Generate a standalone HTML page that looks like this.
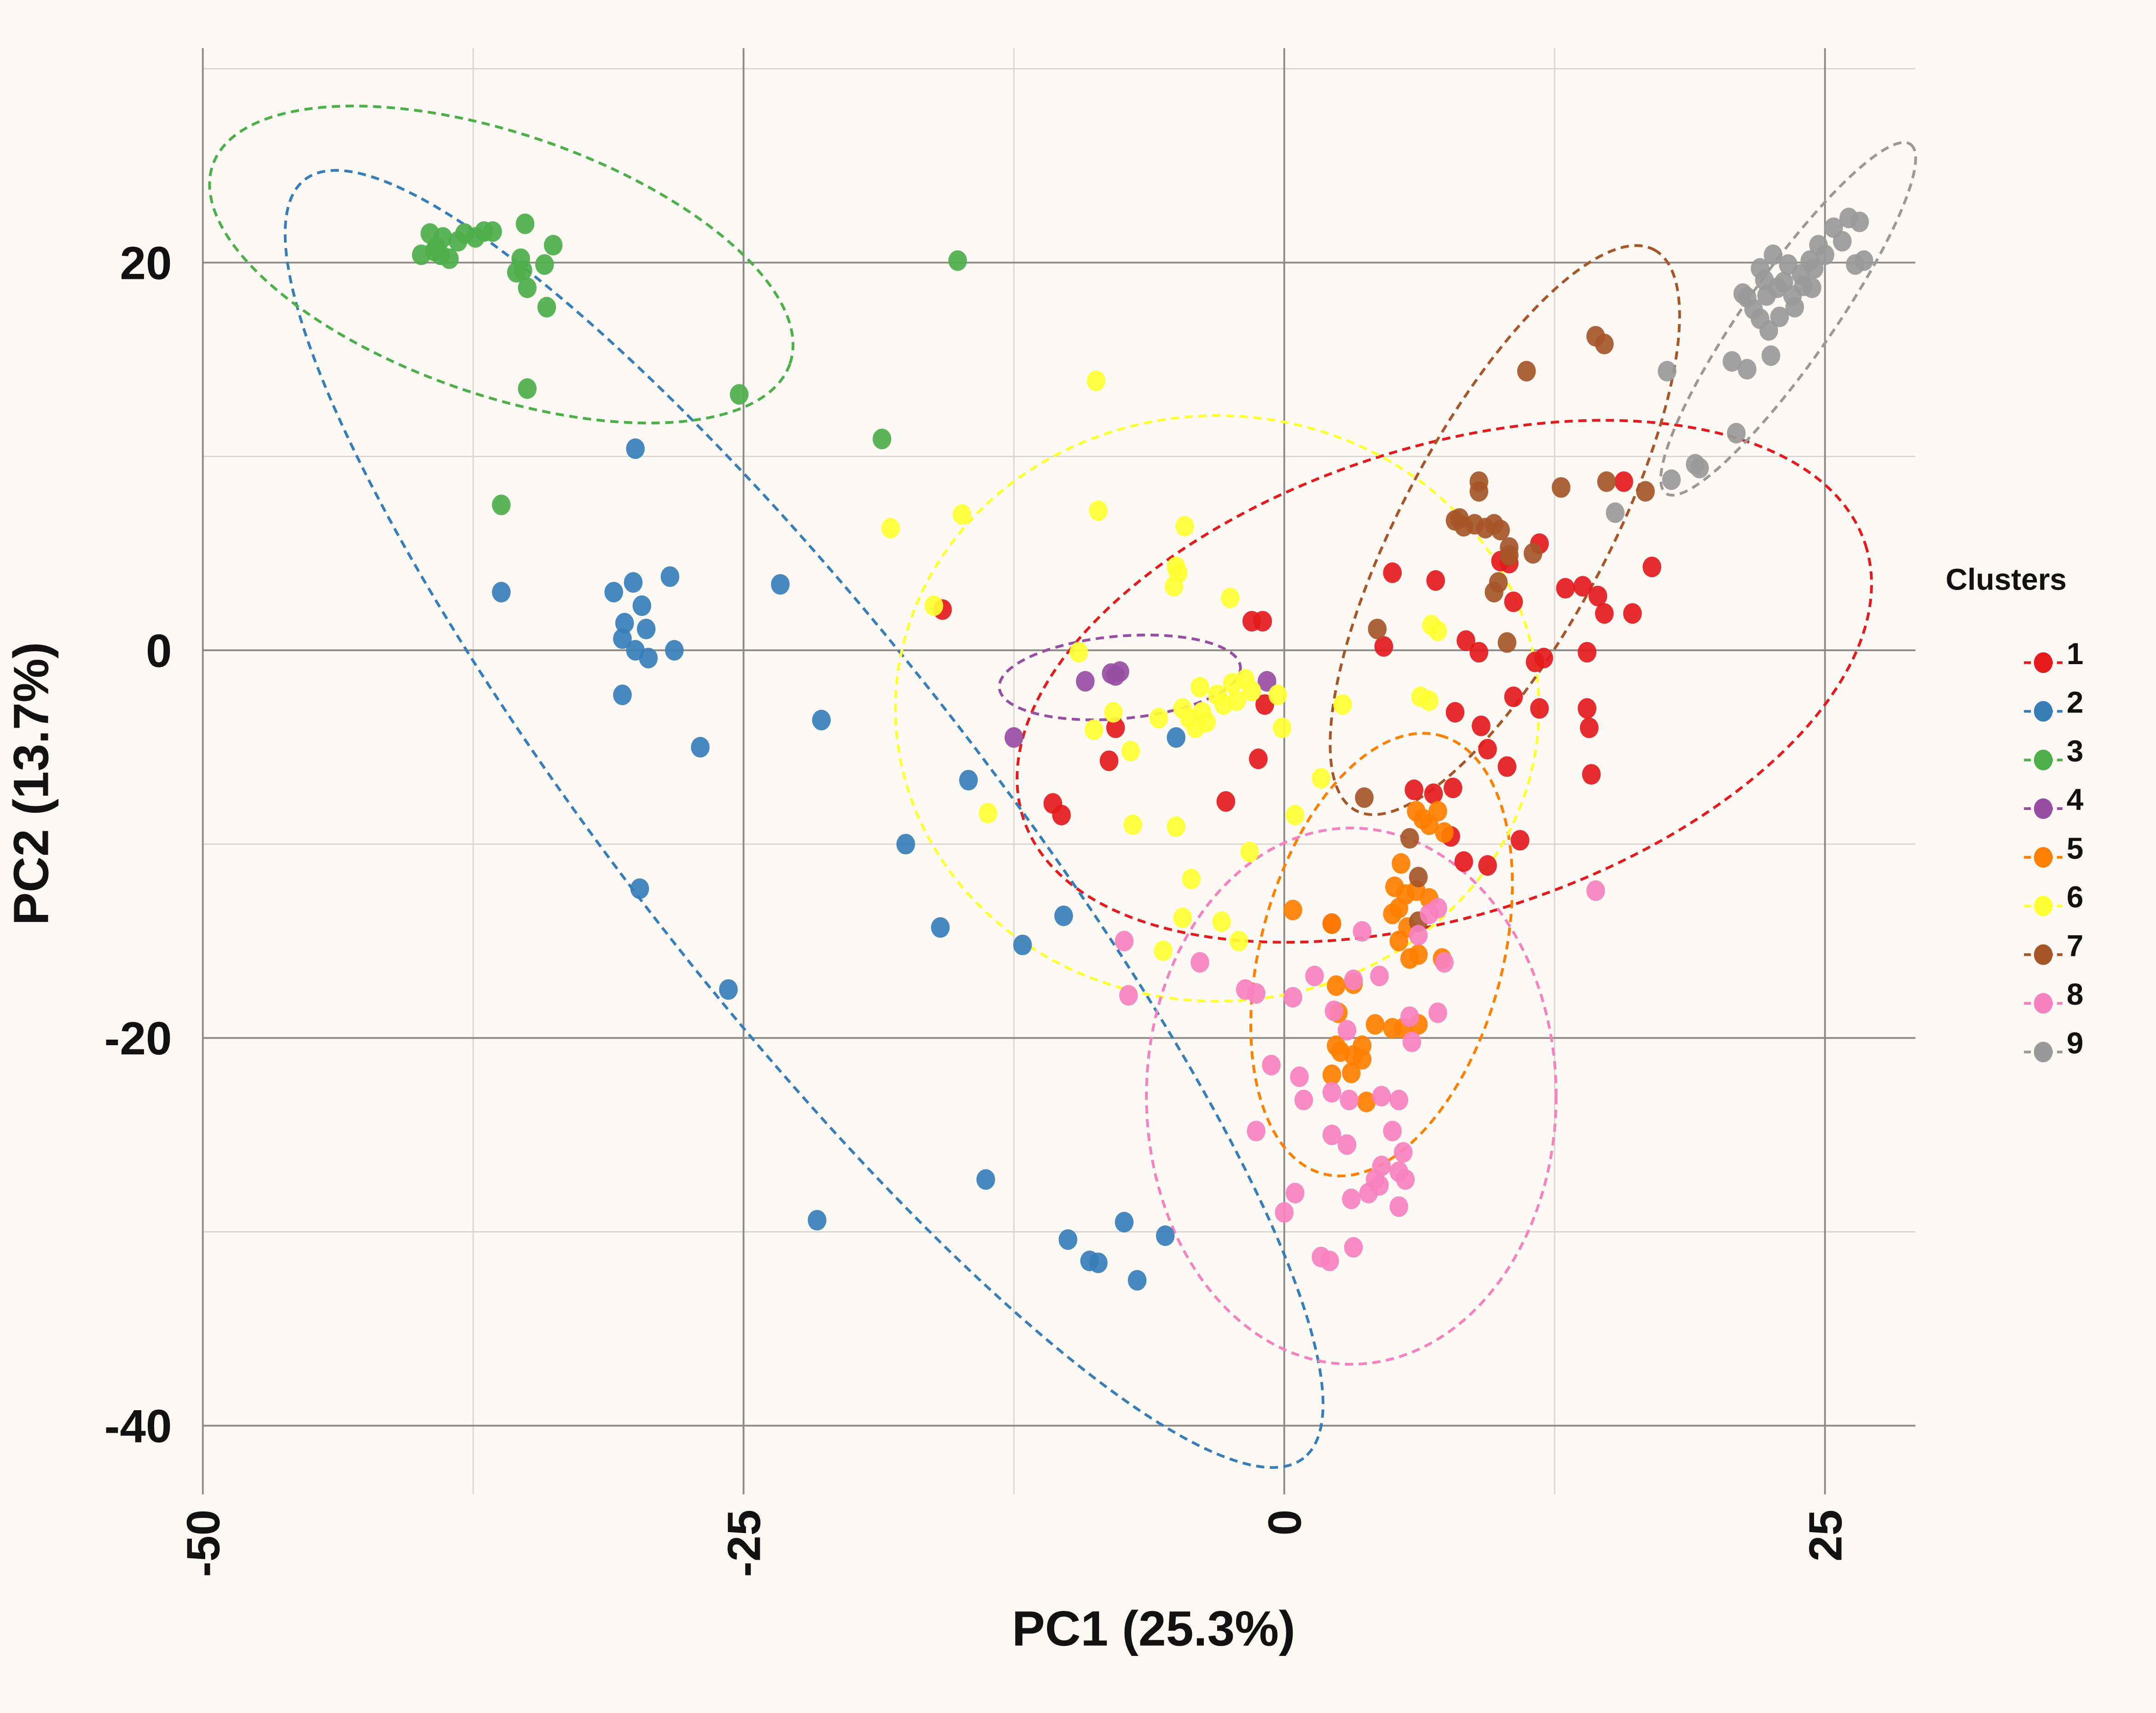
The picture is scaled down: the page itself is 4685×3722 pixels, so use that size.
<!DOCTYPE html>
<html><head><meta charset="utf-8"><style>
html,body{margin:0;padding:0;background:#fdfaf6;}
svg{display:block;font-family:"Liberation Sans",Arial,sans-serif;}
</style></head><body>
<svg id="chart" width="4685" height="3722" viewBox="0 0 1568 1246" preserveAspectRatio="none" xmlns="http://www.w3.org/2000/svg">
<rect width="1568" height="1246" fill="#fdfaf6"/>
<g id="grid"></g>
<g id="ellipses"></g>
<g id="points"></g>
<g id="axes"></g>
<g id="legend"></g>
</svg>
<script>
const xTicks = [-50, -25, 0, 25];
const xMinor = [-37.5, -12.5, 12.5];
const yTicks = [20, 0, -20, -40];
const yMinor = [30, 10, -10, -30];
const clusterNames = ["1","2","3","4","5","6","7","8","9"];
const clusterColors = ["#e41a1c","#377eb8","#4daf4a","#984ea3","#ff7f00","#ffff33","#a65628","#f781bf","#999999"];

const c1 = [[-15.8,2.1],[-10.7,-7.9],[-10.3,-8.5],[-8.1,-5.7],[-7.8,-4.0],[-2.7,-7.8],[-1.2,-5.6],[-0.9,-2.8],[-1.5,1.5],[-1.0,1.5],[4.6,0.2],[5.0,4.0],[7.0,3.6],[8.4,0.5],[9.0,-0.1],[10.6,2.5],[10.0,4.6],[10.4,4.5],[11.8,5.5],[11.6,-0.6],[12.0,-0.4],[10.6,-2.4],[11.8,-3.0],[9.1,-3.9],[9.4,-5.1],[10.3,-6.0],[7.9,-3.2],[6.0,-7.2],[6.9,-7.4],[7.8,-7.1],[10.9,-9.8],[8.3,-10.9],[9.4,-11.1],[13.0,3.2],[13.8,3.3],[14.5,2.8],[14.8,1.9],[16.1,1.9],[14.0,-0.1],[14.0,-3.0],[14.1,-4.0],[14.2,-6.4],[15.7,8.7],[17.0,4.3],[7.7,-9.6],[2.2,-14.1]];
const c2 = [[-30.0,10.4],[-36.2,3.0],[-31.0,3.0],[-30.1,3.5],[-28.4,3.8],[-23.3,3.4],[-30.5,1.4],[-29.7,2.3],[-29.5,1.1],[-30.6,0.6],[-30.0,0.0],[-29.4,-0.4],[-28.2,0.0],[-30.6,-2.3],[-21.4,-3.6],[-27.0,-5.0],[-29.8,-12.3],[-25.7,-17.5],[-17.5,-10.0],[-14.6,-6.7],[-15.9,-14.3],[-12.1,-15.2],[-10.2,-13.7],[-5.0,-4.5],[-13.8,-27.3],[-21.6,-29.4],[-10.0,-30.4],[-9.0,-31.5],[-8.6,-31.6],[-7.4,-29.5],[-6.8,-32.5],[-5.5,-30.2]];
const c3 = [[-39.9,20.4],[-39.5,21.5],[-39.2,20.8],[-38.9,21.3],[-38.6,20.2],[-38.2,21.1],[-37.9,21.5],[-37.4,21.3],[-37.0,21.6],[-36.6,21.6],[-35.1,22.0],[-35.3,20.2],[-35.2,19.6],[-35.5,19.5],[-35.0,18.7],[-34.2,19.9],[-33.8,20.9],[-34.1,17.7],[-35.0,13.5],[-36.2,7.5],[-15.1,20.1],[-25.2,13.2],[-18.6,10.9],[-39.3,20.6],[-39.0,20.4]];
const c4 = [[-9.2,-1.6],[-8.0,-1.2],[-7.6,-1.1],[-7.8,-1.3],[-12.5,-4.5],[-0.8,-1.6]];
const c5 = [[6.1,-8.3],[6.4,-8.7],[7.1,-8.3],[7.4,-9.4],[6.7,-9.0],[5.4,-11.0],[5.1,-12.2],[5.3,-13.3],[5.0,-13.6],[5.6,-12.6],[6.1,-12.4],[6.7,-12.8],[5.7,-14.3],[5.3,-15.0],[5.8,-15.9],[0.4,-13.4],[2.2,-14.1],[2.4,-17.3],[2.5,-18.7],[3.2,-17.2],[2.4,-20.4],[2.6,-20.7],[3.2,-20.9],[3.6,-21.1],[2.2,-21.9],[3.1,-21.8],[3.8,-23.3],[4.2,-19.3],[5.0,-19.5],[5.5,-19.5],[6.2,-19.3],[3.6,-20.4],[7.3,-15.9],[6.2,-15.7]];
const c6 = [[-8.7,13.9],[-8.6,7.2],[-14.9,7.0],[-18.2,6.3],[-16.2,2.3],[-4.6,6.4],[-5.0,4.3],[-4.9,4.0],[-5.1,3.3],[-2.5,2.7],[-9.5,-0.1],[-7.9,-3.2],[-8.8,-4.1],[-7.1,-5.2],[-5.8,-3.5],[-4.7,-3.0],[-4.4,-3.5],[-4.1,-4.0],[-3.8,-3.2],[-3.6,-3.7],[-3.9,-1.9],[-3.1,-2.3],[-2.8,-2.8],[-2.4,-1.7],[-1.8,-1.5],[-1.5,-2.1],[-2.2,-2.6],[-0.3,-2.3],[-0.1,-4.0],[2.7,-2.8],[0.5,-8.5],[1.7,-6.6],[-1.6,-10.4],[-4.3,-11.8],[-4.7,-13.8],[-2.9,-14.0],[-2.1,-15.0],[-5.6,-15.5],[-7.0,-9.0],[-5.0,-9.1],[-13.7,-8.4],[6.3,-2.4],[6.7,-2.6],[6.8,1.3],[7.1,1.0]];
const c7 = [[14.4,16.2],[14.8,15.8],[11.2,14.4],[9.0,8.7],[9.0,8.2],[8.1,6.8],[8.8,6.5],[9.3,6.3],[9.7,6.5],[10.0,6.2],[8.3,6.4],[7.9,6.7],[10.4,5.3],[10.4,4.9],[9.9,3.5],[9.7,3.0],[11.5,5.0],[12.8,8.4],[14.9,8.7],[16.7,8.2],[10.3,0.4],[4.3,1.1],[3.7,-7.6],[5.8,-9.7],[6.2,-11.7],[6.2,-14.0]];
const c8 = [[-7.4,-15.0],[-7.2,-17.8],[-3.9,-16.1],[-1.8,-17.5],[-1.3,-17.7],[0.4,-17.9],[1.4,-16.8],[3.2,-17.0],[4.4,-16.8],[2.3,-18.6],[2.9,-19.6],[5.9,-20.2],[5.8,-18.9],[7.1,-18.7],[7.4,-16.1],[6.7,-13.6],[7.1,-13.3],[6.2,-14.7],[3.6,-14.5],[-0.6,-21.4],[0.7,-22.0],[0.9,-23.2],[2.2,-22.8],[3.0,-23.2],[4.5,-23.0],[5.3,-23.2],[5.0,-24.8],[2.2,-25.0],[-1.3,-24.8],[2.9,-25.5],[5.5,-25.9],[5.3,-26.9],[5.6,-27.3],[4.5,-26.6],[4.2,-27.3],[3.9,-28.0],[4.4,-27.6],[3.1,-28.3],[5.3,-28.7],[0.5,-28.0],[0.0,-29.0],[1.7,-31.3],[2.1,-31.5],[3.2,-30.8],[14.4,-12.4]];
const c9 = [[17.7,14.4],[19.0,9.6],[19.2,9.4],[17.9,8.8],[15.3,7.1],[20.9,11.2],[20.7,14.9],[21.4,14.5],[21.4,18.2],[21.7,17.6],[22.0,17.1],[22.4,16.5],[22.5,15.2],[22.0,19.7],[22.6,20.4],[23.1,19.0],[23.5,18.3],[23.9,19.4],[24.3,20.1],[24.7,20.9],[25.0,20.4],[25.4,21.8],[25.8,21.1],[26.1,22.3],[26.6,22.1],[26.8,20.1],[26.4,19.9],[23.6,17.7],[22.9,17.2],[22.3,18.3],[22.8,18.7],[23.3,19.9],[24.0,18.8],[24.5,19.7],[24.4,18.7],[22.2,19.1],[21.2,18.4]];
const clusterData = [c1,c2,c3,c4,c5,c6,c7,c8,c9];
const ellipseCenters = [[7.4,-1.6],[-22.2,-8.7],[-36.2,19.9],[-7.6,-1.4],[4.5,-15.7],[-3.1,-3.0],[10.2,6.2],[3.1,-23.0],[23.3,17.1]];
const ellipseAxes = [[322,170,-18],[590,130,52],[222,95,19],[88,30,-5],[165,88,-75],[234,213,0],[231,75,-62],[149,195,0],[155,32,-55]];

const NS="http://www.w3.org/2000/svg";
const X0=147,X1=1393,YT=35,YB=1087;
function sx(v){return 934+(v)*15.73;}
function sy(v){return 473-(v)*14.1;}
function mk(tag,attrs,parent){const e=document.createElementNS(NS,tag);for(const k in attrs)e.setAttribute(k,attrs[k]);parent.appendChild(e);return e;}

const grid=document.getElementById('grid');
xMinor.forEach(v=>{const l=mk('line',{x1:sx(v),x2:sx(v),y1:YT,y2:YB,stroke:'#d9d6d2','stroke-width':1},grid);

});
yMinor.forEach(v=>{const l=mk('line',{x1:X0,x2:X1,y1:sy(v),y2:sy(v),stroke:'#d9d6d2','stroke-width':1},grid);

});
xTicks.forEach(v=>{const l=mk('line',{x1:sx(v),x2:sx(v),y1:YT,y2:YB,stroke:'#8c8a88','stroke-width':1.3},grid);

});
yTicks.forEach(v=>{const l=mk('line',{x1:X0,x2:X1,y1:sy(v),y2:sy(v),stroke:'#8c8a88','stroke-width':1.3},grid);

});

const eg=document.getElementById('ellipses');
ellipseCenters.forEach((c,i)=>{const a=ellipseAxes[i];
const e=mk('ellipse',{cx:0,cy:0,rx:a[0],ry:a[1],fill:'none',stroke:clusterColors[i],'stroke-width':2,'stroke-dasharray':'6,4',transform:`translate(${sx(c[0])},${sy(c[1])}) rotate(${a[2]})`},eg);

});

const pg=document.getElementById('points');
clusterData.forEach((pts,i)=>{pts.forEach(p=>{
const c=mk('ellipse',{cx:sx(p[0]),cy:sy(p[1]),rx:6.8,ry:7.5,fill:clusterColors[i],'fill-opacity':0.92},pg);

});});

const ax=document.getElementById('axes');
yTicks.forEach(v=>{const t=mk('text',{x:125,y:sy(v)+12,'text-anchor':'end','font-size':34,'font-weight':'bold',fill:'#111'},ax);t.textContent=v;

});
xTicks.forEach(v=>{const t=mk('text',{x:0,y:0,'text-anchor':'end','font-size':34,'font-weight':'bold',fill:'#111',transform:`translate(${sx(v)+12},1098) rotate(-90)`},ax);t.textContent=v;

});
const xt=mk('text',{x:839,y:1197,'text-anchor':'middle','font-size':36,'font-weight':'bold',fill:'#111'},ax);xt.textContent='PC1 (25.3%)';


const yt=mk('text',{x:0,y:0,'text-anchor':'middle','font-size':36,'font-weight':'bold',fill:'#111',transform:'translate(35,570) rotate(-90)'},ax);yt.textContent='PC2 (13.7%)';



const lg=document.getElementById('legend');
const lt=mk('text',{x:1415,y:429,'font-size':22,'font-weight':'bold',fill:'#111'},lg);lt.textContent='Clusters';


clusterNames.forEach((n,i)=>{const y=475+i*35.4;
const g=mk('g',{},lg);


mk('line',{x1:1472,x2:1500,y1:y+7,y2:y+7,stroke:clusterColors[i],'stroke-width':2,'stroke-dasharray':'5,3'},g);
mk('ellipse',{cx:1486,cy:y+7,rx:6.8,ry:7.5,fill:clusterColors[i]},g);
const t=mk('text',{x:1503,y:y+8,'font-size':22,'font-weight':'bold',fill:'#111'},g);t.textContent=n;});
</script>
</body></html>
